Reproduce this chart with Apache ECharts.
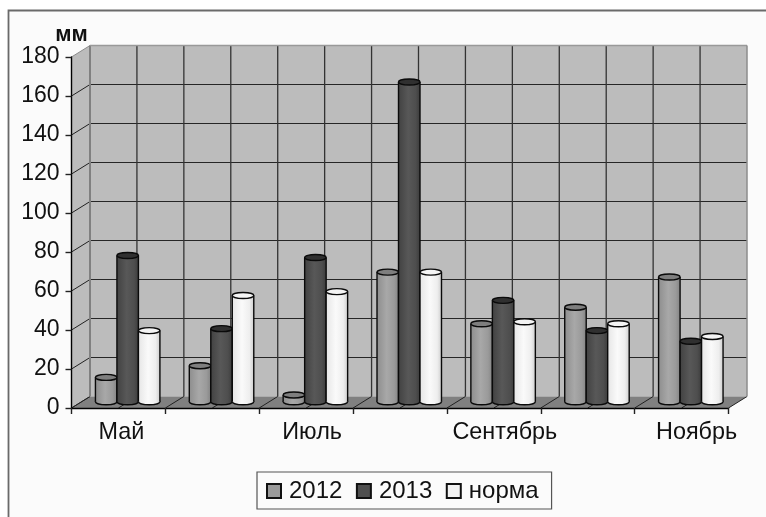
<!DOCTYPE html>
<html>
<head>
<meta charset="utf-8">
<style>html,body{margin:0;padding:0;background:#fff}#chart{width:766px;height:517px}</style>
<script src="https://cdn.jsdelivr.net/npm/echarts@6/dist/echarts.min.js"></script>
</head>
<body>
<div id="chart"></div>
<script>
// Осадки по месяцам, мм
const months = ['Май', 'Июнь', 'Июль', 'Август', 'Сентябрь', 'Октябрь', 'Ноябрь'];
const y2012 = [12.5, 18.5, 3.5, 66.5, 40, 48.5, 64];
const y2013 = [75, 37.5, 74, 164, 52, 36.5, 31];
const norm = [36.5, 54.5, 56.5, 66.5, 41, 40, 33.5];
const yTicks = [0, 20, 40, 60, 80, 100, 120, 140, 160, 180];

// Псевдотрёхмерная коробка: сдвиг задней стенки относительно передней плоскости
const DEPTH_X = 18.5;
const DEPTH_Y = -11.5;
const LABEL_SHIFT = [3, 0, 6, 0, 11, 0, 15];
const FONT = '"Liberation Sans", Arial, sans-serif';

function wallRender(params, api) {
  if (params.dataIndex !== 0) return null;
  const cs = params.coordSys;
  const left = cs.x, right = cs.x + cs.width, top = cs.y, bottom = cs.y + cs.height;
  const cw = cs.width / months.length;
  const kids = [];
  const poly = (pts, fill) => kids.push({ type: 'polygon', shape: { points: pts }, style: { fill: fill, stroke: null } });
  const line = (x1, y1, x2, y2, stroke, w) => kids.push({ type: 'line', shape: { x1, y1, x2, y2 }, style: { stroke, lineWidth: w } });
  const dx = DEPTH_X, dy = DEPTH_Y;

  poly([[left, top], [left + dx, top + dy], [left + dx, bottom + dy], [left, bottom]], '#bcbcbc');
  poly([[left + dx, top + dy], [right + dx, top + dy], [right + dx, bottom + dy], [left + dx, bottom + dy]], '#bcbcbc');
  poly([[left, bottom], [left + dx, bottom + dy], [right + dx, bottom + dy], [right, bottom]], '#808080');

  yTicks.forEach(function (v) {
    const y = api.coord([0, v])[1];
    if (v > 0 && v < 180) line(left + dx, y + dy, right + dx, y + dy, '#262626', 1.2);
    line(left, y, left + dx, y + dy, v === 180 ? '#8c8c8c' : (v === 0 ? '#333' : '#222'), 1);
  });
  for (let i = 0; i <= months.length; i++) {
    const x = left + cw * i;
    if (i > 0 && i < months.length) line(x + dx, top + dy, x + dx, bottom + dy, '#333', 1.3);
    line(x, bottom, x + dx, bottom + dy, '#222', 1);
  }
  months.forEach(function (m, i) {
    const x = left + cw * (i + 0.5);
    line(x + dx, top + dy, x + dx, bottom + dy, '#333', 1.3);
    line(x, bottom, x + dx, bottom + dy, '#222', 1);
  });
  line(left + dx, top + dy, left + dx, bottom + dy, '#808080', 2);
  line(left + dx, top + dy, right + dx, top + dy, '#999', 1.5);
  line(right + dx, top + dy, right + dx, bottom + dy, '#8c8c8c', 1.5);
  return { type: 'group', children: kids };
}

// Цилиндр столбца: slot — позиция в группе из трёх столбцов
function cylinderRender(slot, stops, capFill) {
  return function (params, api) {
    const i = api.value(0);
    const base = api.coord([i, 0]);
    const head = api.coord([i, api.value(1)]);
    const cw = api.size([1, 0])[0];
    const w = cw * 0.229;
    const cx = base[0] + DEPTH_X / 2 + (slot - 1) * w;
    const ry = 3;
    const y0 = base[1] + DEPTH_Y / 2 - 0.5;
    const y1 = head[1] + DEPTH_Y / 2 - 0.5;
    const fill = { type: 'linear', x: 0, y: 0, x2: 1, y2: 0, colorStops: stops };
    const line = { stroke: '#0a0a0a', lineWidth: 1.4 };
    return {
      type: 'group',
      children: [
        { type: 'ellipse', shape: { cx: cx, cy: y0, rx: w / 2, ry: ry }, style: Object.assign({ fill: fill }, line) },
        { type: 'rect', shape: { x: cx - w / 2, y: y1, width: w, height: y0 - y1 }, style: { fill: fill, stroke: null } },
        { type: 'line', shape: { x1: cx - w / 2, y1: y1, x2: cx - w / 2, y2: y0 }, style: line },
        { type: 'line', shape: { x1: cx + w / 2, y1: y1, x2: cx + w / 2, y2: y0 }, style: line },
        { type: 'ellipse', shape: { cx: cx, cy: y1, rx: w / 2, ry: ry }, style: Object.assign({ fill: capFill }, line) }
      ]
    };
  };
}

const gradient = (a, b, c, d) => [
  { offset: 0, color: a }, { offset: 0.45, color: b }, { offset: 0.8, color: c }, { offset: 1, color: d }
];

function barSeries(name, values, slot, color, stops, cap) {
  return {
    type: 'custom',
    name: name,
    z: 4,
    itemStyle: { color: color, borderColor: '#111', borderWidth: 1.3 },
    renderItem: cylinderRender(slot, stops, cap),
    encode: { x: 0, y: 1 },
    data: values.map((v, i) => [i, v])
  };
}

const rich = {};
LABEL_SHIFT.forEach(function (s) {
  rich['s' + s] = { fontSize: 23.4, fontFamily: FONT, color: '#111', padding: [0, 0, 0, s * 2] };
});

const chart = echarts.init(document.getElementById('chart'), null, { renderer: 'canvas' });
chart.setOption({
  animation: false,
  backgroundColor: '#fff',
  textStyle: { fontFamily: FONT },
  graphic: [{
    type: 'rect', z: -10, silent: true,
    shape: { x: 8.5, y: 10.5, width: 800, height: 560 },
    style: { fill: '#fbfbfb', stroke: '#6a6a6a', lineWidth: 1.8 }
  }],
  grid: { left: 71.5, top: 57, width: 657, height: 351, containLabel: false },
  legend: {
    left: 257, top: 472,
    padding: [7, 13, 6, 9],
    itemWidth: 14, itemHeight: 14, itemGap: 13.5,
    borderColor: '#555', borderWidth: 1.2, backgroundColor: '#fbfbfb',
    icon: 'rect',
    textStyle: { fontSize: 24, color: '#111', fontFamily: FONT, padding: [0, 0, 0, 3] },
    data: ['2012', '2013', 'норма']
  },
  xAxis: {
    type: 'category',
    data: months,
    z: 3,
    axisLine: { lineStyle: { color: '#000', width: 1.4 } },
    axisTick: { show: true, interval: 0, alignWithLabel: false, length: 6, lineStyle: { color: '#222', width: 1.4 } },
    axisLabel: {
      interval: 1, margin: 13, hideOverlap: false,
      formatter: function (v, i) { return '{s' + LABEL_SHIFT[i] + '|' + v + '}'; },
      rich: rich
    },
    splitLine: { show: false }
  },
  yAxis: {
    type: 'value',
    min: 0, max: 180, interval: 20,
    z: 3,
    name: 'мм',
    nameGap: 11,
    nameLocation: 'end',
    nameTextStyle: { fontSize: 22, fontWeight: 'bold', color: '#111', fontFamily: FONT, align: 'center', padding: [0, 0, 0, 0] },
    axisLine: { show: true, lineStyle: { color: '#000', width: 1.4 } },
    axisTick: { show: true, length: 6, lineStyle: { color: '#222', width: 1.4 } },
    axisLabel: { fontSize: 23, color: '#111', margin: 12, fontFamily: FONT, padding: [5, 0, 0, 0] },
    splitLine: { show: false }
  },
  series: [
    { type: 'custom', z: 1, silent: true, renderItem: wallRender, encode: { x: 0, y: 1 }, data: [[0, 0]], tooltip: { show: false } },
    barSeries('2012', y2012, 0, '#9a9a9a', gradient('#8e8e8e', '#a8a8a8', '#9a9a9a', '#848484'), '#7e7e7e'),
    barSeries('2013', y2013, 1, '#4f4f4f', gradient('#424242', '#585858', '#4e4e4e', '#3c3c3c'), '#303030'),
    barSeries('норма', norm, 2, '#f2f2f2', gradient('#e6e6e6', '#fafafa', '#eeeeee', '#cfcfcf'), '#f4f4f4')
  ]
});
</script>
</body>
</html>
